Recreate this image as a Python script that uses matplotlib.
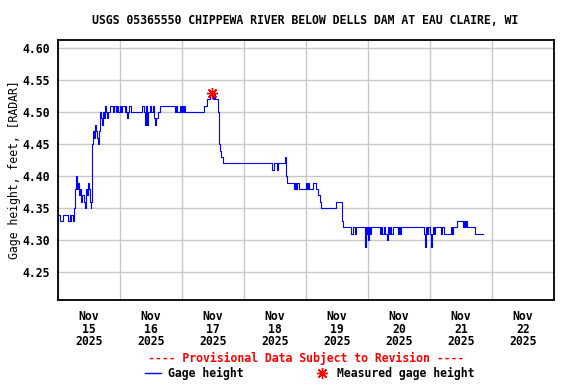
import datetime as dt
import matplotlib
matplotlib.use("Agg")
import matplotlib.pyplot as plt
import matplotlib.dates as mdates
from matplotlib.lines import Line2D

# Gage height steps: hours after 2025-11-15 00:00 and value (feet)
step_hours = [
    0, 0.7, 2.0, 3.9, 4.5, 4.8, 5.2, 5.8, 6.2, 6.6, 7.1, 7.5, 7.9, 8.1, 8.7,
    9.0, 9.4, 9.9, 10.3, 10.7, 11.2, 11.6, 12.0, 12.3, 12.7, 12.9, 13.2, 13.5,
    13.9, 14.2, 14.6, 15.0, 15.4, 15.9, 16.2, 16.4, 16.8, 17.2, 17.4, 17.8,
    18.2, 18.7, 19.1, 19.5, 20.0, 21.3, 21.7, 22.3, 22.8, 23.2, 23.9, 24.5,
    24.9, 25.8, 26.2, 26.5, 26.7, 27.0, 27.5, 28.1, 32.7, 33.3, 33.8, 34.2,
    34.6, 35.0, 35.5, 36.1, 36.8, 37.2, 37.6, 38.1, 38.7, 39.4, 45.2, 45.8,
    46.2, 47.1, 47.5, 47.9, 48.4, 48.8, 49.0, 56.4, 57.5, 58.7, 60.0, 60.4,
    60.9, 61.9, 62.3, 62.8, 63.2, 63.9,
    82.6, 83.0, 83.5, 84.8, 85.2, 87.7, 88.1, 88.4, 88.8, 91.3, 91.7, 92.1,
    92.5, 93.3, 95.9, 96.4, 96.8, 97.2, 98.7, 99.7, 100.8, 101.3, 101.9,
    107.7, 110.0, 110.3,
    113.5, 114.1, 114.8, 115.4, 118.7, 118.8, 119.1, 119.4, 119.8, 120.1,
    120.4, 120.9, 121.3, 124.5, 124.9, 125.5, 126.0, 126.6, 127.3, 127.6,
    128.1, 128.6, 129.0, 129.5, 131.5, 132.0, 132.4, 132.9, 141.6, 142.1,
    142.3, 142.7, 143.3, 143.9, 144.5, 144.8, 145.1, 145.5, 145.9, 148.4,
    148.8, 149.3, 152.1, 152.5, 152.9, 154.4, 156.6, 157.0, 157.4, 157.9,
    158.3, 161.5, 164.5,
]
step_values = [
    4.34, 4.33, 4.34, 4.33, 4.34, 4.33, 4.34, 4.33, 4.35, 4.38, 4.40, 4.38,
    4.39, 4.37, 4.38, 4.36, 4.37, 4.36, 4.35, 4.38, 4.37, 4.39, 4.38, 4.36,
    4.35, 4.36, 4.45, 4.47, 4.46, 4.48, 4.47, 4.46, 4.45, 4.47, 4.48, 4.50,
    4.49, 4.48, 4.50, 4.49, 4.51, 4.50, 4.49, 4.50, 4.51, 4.50, 4.51, 4.50,
    4.51, 4.50, 4.51, 4.50, 4.51, 4.50, 4.51, 4.50, 4.49, 4.50, 4.51, 4.50,
    4.51, 4.50, 4.48, 4.51, 4.48, 4.50, 4.51, 4.50, 4.51, 4.49, 4.48, 4.49,
    4.50, 4.51, 4.50, 4.51, 4.50, 4.51, 4.50, 4.51, 4.50, 4.51, 4.50, 4.51,
    4.52, 4.53, 4.52, 4.53, 4.52, 4.50, 4.45, 4.44, 4.43, 4.42,
    4.42, 4.41, 4.42, 4.41, 4.42, 4.43, 4.42, 4.40, 4.39, 4.38, 4.39, 4.38,
    4.39, 4.38, 4.39, 4.38, 4.39, 4.38, 4.39, 4.38, 4.37, 4.36, 4.35,
    4.36, 4.33, 4.32,
    4.31, 4.32, 4.31, 4.32, 4.31, 4.29, 4.32, 4.31, 4.32, 4.30,
    4.32, 4.31, 4.32, 4.31, 4.32, 4.31, 4.32, 4.31, 4.30, 4.32,
    4.31, 4.32, 4.31, 4.32, 4.31, 4.32, 4.31, 4.32, 4.31, 4.29,
    4.32, 4.31, 4.32, 4.31, 4.29, 4.31, 4.32, 4.31, 4.32, 4.31,
    4.32, 4.31, 4.32, 4.31, 4.32, 4.33, 4.32, 4.33, 4.32, 4.33,
    4.32, 4.31, 4.31,
]

# Field measurement
meas_hours = [59.6]
meas_values = [4.53]

start = dt.datetime(2025, 11, 15)
times = [start + dt.timedelta(hours=h) for h in step_hours]
meas_times = [start + dt.timedelta(hours=h) for h in meas_hours]

plt.rcParams['font.family'] = 'DejaVu Sans Mono'
plt.rcParams['font.weight'] = 'bold'
fs = 8.3

fig = plt.figure(figsize=(5.76, 3.84), dpi=100)
ax = fig.add_axes([58/576, 1-300/384, (554-58)/576, (300-40)/384])

ax.plot(times, step_values, drawstyle='steps-post', color='#0000ff', lw=0.8,
        label='Gage height')
ax.plot(meas_times, meas_values, ls='none', marker=(8, 2, 0), ms=8,
        mew=1.0, color='#ff0000', label='Measured gage height')

ax.set_xlim(start, start + dt.timedelta(days=8))
ax.set_ylim(4.2067, 4.6125)
ax.set_yticks([4.25, 4.30, 4.35, 4.40, 4.45, 4.50, 4.55, 4.60])
ax.yaxis.set_major_formatter(matplotlib.ticker.FormatStrFormatter('%.2f'))

ax.xaxis.set_major_locator(mdates.DayLocator())
ax.xaxis.set_major_formatter(matplotlib.ticker.NullFormatter())
ax.xaxis.set_minor_locator(mdates.HourLocator(byhour=[12]))
ax.xaxis.set_minor_formatter(mdates.DateFormatter('%b\n%d\n%Y'))

ax.grid(True, which='major', color='#c8c8c8', lw=1.0)
ax.set_axisbelow(True)
ax.tick_params(which='both', length=0, labelsize=fs)
ax.tick_params(axis='x', which='minor', pad=7)
ax.tick_params(axis='y', pad=6)
for lbl in ax.xaxis.get_minorticklabels():
    lbl.set_linespacing(0.98)
for sp in ax.spines.values():
    sp.set_linewidth(1.3)

ax.set_ylabel('Gage height, feet, [RADAR]', fontsize=fs, labelpad=1)

fig.text(305/576, 1-20/384, 'USGS 05365550 CHIPPEWA RIVER BELOW DELLS DAM AT EAU CLAIRE, WI',
         ha='center', va='center', fontsize=fs)
fig.text(306/576, 1-358/384, '---- Provisional Data Subject to Revision ----',
         ha='center', va='center', fontsize=fs, color='#ff0000')

handles = [Line2D([], [], color='#0000ff', lw=1.0),
           Line2D([], [], ls='none', marker=(8, 2, 0), ms=8, mew=1.0, color='#ff0000')]
fig.legend(handles, ['Gage height', 'Measured gage height'], ncol=2,
           loc='center', bbox_to_anchor=(309.5/576, 1-373/384), frameon=False,
           fontsize=fs, handlelength=1.46, handletextpad=0.6, columnspacing=6.0,
           borderpad=0.0, borderaxespad=0.0)

fig.savefig('out.png', dpi=100)
